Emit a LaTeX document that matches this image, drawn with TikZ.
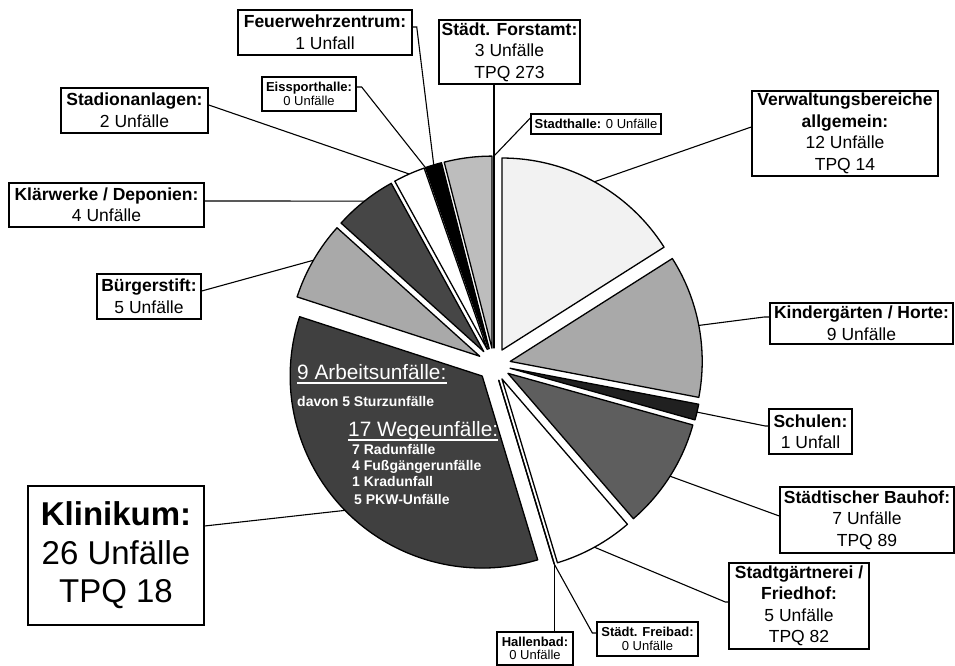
\documentclass[tikz,border=0pt]{standalone}
\usepackage{fontspec}
\setmainfont{Liberation Sans}
\usetikzlibrary{calc}
\definecolor{verwgray}{HTML}{F2F2F2}
\definecolor{midgray}{HTML}{A9A9A9}
\definecolor{forstgray}{HTML}{BDBDBD}
\definecolor{bauhofgray}{HTML}{5E5E5E}
\definecolor{klinikgray}{HTML}{404040}
\definecolor{klaergray}{HTML}{464646}
\definecolor{schulgray}{HTML}{202020}
\tikzset{
  slice/.style={draw=black, line width=1.3pt, line join=round},
  leader/.style={line width=1.1pt},
  box/.style={draw=black, fill=white, line width=1.5pt, align=center, inner sep=1pt, font=\fontsize{17.5}{21.5}\selectfont},
  smallbox/.style={box, line width=1.3pt, font=\fontsize{13}{13.5}\selectfont},
  bigbox/.style={box, font=\fontsize{33}{38.5}\selectfont},
  intext/.style={text=white, inner sep=0pt, anchor=base west, font=\fontsize{14}{16}\selectfont\bfseries},
  inhead/.style={text=white, inner sep=0pt, anchor=base west, font=\fontsize{20.8}{24}\selectfont},
  uline/.style={white, line width=1.6pt}
}

\begin{document}
\begin{tikzpicture}[x=1pt, y=1pt]
\useasboundingbox (0,0) rectangle (955,666);
\coordinate (C) at (494,301.5);
\def\gap{16.5}
\def\rad{192}
% slices, clockwise from the top
\foreach \s/\e/\c/\n in {32.4/90/verwgray/verw, -10.8/32.4/midgray/kind, -15.6/-10.8/schulgray/schul, -49.2/-15.6/bauhofgray/bauhof, -73.2/-49.2/white/gaert, -73.2/-73.2/white/freib, -73.2/-73.2/white/hallb, -198/-73.2/klinikgray/klinik, 138/162/midgray/buerg, 118.8/138/klaergray/klaer, 109.2/118.8/white/stadion, 109.2/109.2/white/eiss, 104.4/109.2/black/feuer, 90/104.4/forstgray/forst, 90/90/white/stadth} {
  \pgfmathsetmacro\m{(\s+\e)/2}
  \pgfmathsetmacro\out{\gap+\rad}
  \filldraw[slice, fill=\c] ($(C)+(\m:\gap)$) -- ++(\s:\rad) arc[start angle=\s, end angle=\e, radius=\rad] -- cycle;
  \coordinate (\n-m) at ($(C)+(\m:\out)$);
}

\node[inhead] (arb) at (297,286) {9 Arbeitsunfälle:};
\draw[uline] ($(arb.base west)+(0,-3)$) -- ($(arb.base east)+(0,-3)$);
\node[intext] (sturz) at (297,259) {davon 5 Sturzunfälle};
\node[inhead] (wege) at (348,229) {17 Wegeunfälle:};
\draw[uline] ($(wege.base west)+(0,-3)$) -- ($(wege.base east)+(0,-3)$);
\node[intext] (rad) at (352,211) {7 Radunfälle};
\node[intext] (fuss) at (352,195) {4 Fußgängerunfälle};
\node[intext] (krad) at (352,179) {1 Kradunfall};
\node[intext] (pkw) at (354,161) {5 PKW-Unfälle};

\node[box, minimum width=174, minimum height=45] (feuer) at (325,633.5) {\textbf{Feuerwehrzentrum:}\\1 Unfall};
\node[box, minimum width=141, minimum height=64] (forst) at (509.5,614) {\textbf{Städt. Forstamt:}\\3 Unfälle\\TPQ 273};
\node[smallbox, minimum width=94, minimum height=34] (eiss) at (309,572) {\textbf{Eissporthalle:}\\0 Unfälle};
\node[smallbox, minimum width=130, minimum height=20] (stadth) at (596,542) {\textbf{Stadthalle:} 0 Unfälle};
\node[box, minimum width=186, minimum height=85] (verw) at (845,532.5) {\textbf{Verwaltungsbereiche}\\\textbf{allgemein:}\\12 Unfälle\\TPQ 14};
\node[box, minimum width=183, minimum height=41] (kind) at (861.5,342.5) {\textbf{Kindergärten / Horte:}\\9 Unfälle};
\node[box, minimum width=83, minimum height=45] (schul) at (810.5,234.5) {\textbf{Schulen:}\\1 Unfall};
\node[box, minimum width=174, minimum height=66] (bauhof) at (867,146) {\textbf{Städtischer Bauhof:}\\7 Unfälle\\TPQ 89};
\node[box, minimum width=140, minimum height=86] (gaert) at (799,60) {\textbf{Stadtgärtnerei /}\\\textbf{Friedhof:}\\5 Unfälle\\TPQ 82};
\node[smallbox, minimum width=101, minimum height=34] (freib) at (647.5,27) {\textbf{Städt. Freibad:}\\0 Unfälle};
\node[smallbox, minimum width=76, minimum height=33] (hallb) at (535,17.5) {\textbf{Hallenbad:}\\0 Unfälle};
\node[bigbox, minimum width=176, minimum height=139] (klinik) at (116,110.5) {\textbf{Klinikum:}\\26 Unfälle\\TPQ 18};
\node[box, minimum width=104, minimum height=45] (buerg) at (149,369.5) {\textbf{Bürgerstift:}\\5 Unfälle};
\node[box, minimum width=195, minimum height=44] (klaer) at (106.5,461) {\textbf{Klärwerke / Deponien:}\\4 Unfälle};
\node[box, minimum width=147, minimum height=45] (stadion) at (134.5,555.5) {\textbf{Stadionanlagen:}\\2 Unfälle};

\draw[leader] ($(feuer.east)+(0,5.5)$) -- ++(4,0) -- (feuer-m);
\draw[leader] (forst.south -| stadth-m) -- (stadth-m);
\draw[leader] ($(eiss.east)+(0,7)$) -- ++(5,0) -- (eiss-m);
\draw[leader] ($(stadth.west)+(0,6)$) -- (stadth-m);
\draw[leader] ($(verw.west)+(0,6.5)$) -- (verw-m);
\draw[leader] ($(kind.west)+(0,6.5)$) -- ++(-5,0) -- (kind-m);
\draw[leader] ($(schul.west)+(0,5.5)$) -- ++(-3,0) -- (schul-m);
\draw[leader] ($(bauhof.west)+(0,4)$) -- (bauhof-m);
\draw[leader] ($(gaert.west)+(0,4)$) -- ++(-3,0) -- (gaert-m);
\draw[leader] ($(freib.west)+(0,6)$) -- ++(-4,0) -- (freib-m);
\draw[leader] (hallb.north -| hallb-m) -- (hallb-m);
\draw[leader] ($(klinik.east)+(0,29.5)$) -- (klinik-m);
\draw[leader] ($(buerg.east)+(0,5.5)$) -- (buerg-m);
\draw[leader] ($(klaer.east)+(0,4)$) -- (klaer-m);
\draw[leader] ($(stadion.east)+(0,5.5)$) -- (stadion-m);
\end{tikzpicture}
\end{document}
